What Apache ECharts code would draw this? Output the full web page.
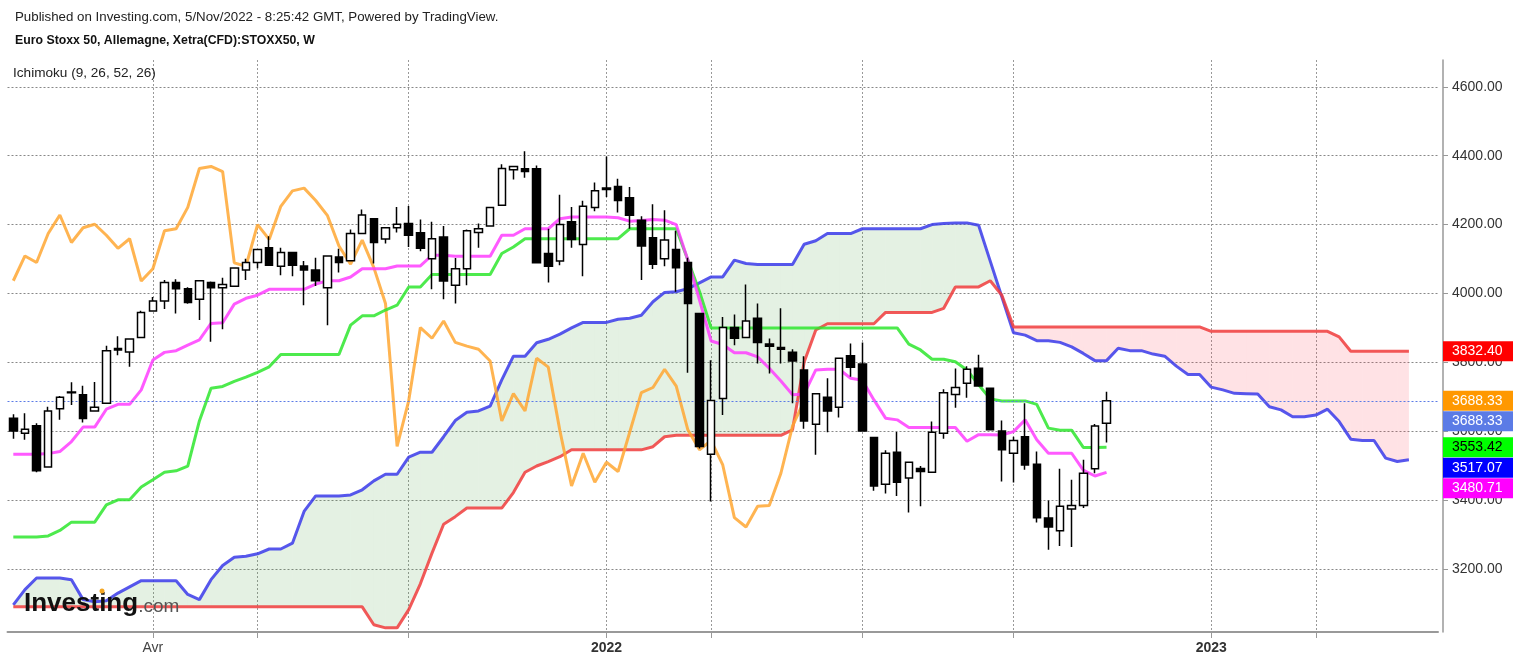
<!DOCTYPE html>
<html><head><meta charset="utf-8">
<script src="https://cdn.jsdelivr.net/npm/echarts@6/dist/echarts.min.js"></script>
<style>html,body{margin:0;padding:0;background:#fff;overflow:hidden}#c{width:1513px;height:661px}</style>
</head><body><div id="c"></div>
<script>
// ---------- DATA (weekly candles, Euro Stoxx 50) ----------
const startDate = '2021-01-11';
const totalWeeks = 123; // 95 candles + 26 forward cloud weeks + right margin
const opens = [3638,3594,3616,3496,3665,3712,3706,3659,3681,3836,
3830,3872,3949,3978,4032,4014,3983,4032,4017,4021,
4068,4090,4133,4079,4119,4080,4068,4017,4106,4095,
4174,4217,4158,4191,4203,4176,4101,4164,4024,4072,
4177,4196,4256,4359,4362,4362,4116,4094,4208,4142,
4250,4302,4311,4278,4213,4162,4101,4128,4090,3942,
3533,3695,3901,3872,3928,3853,3843,3829,3778,3620,
3699,3670,3819,3795,3582,3446,3539,3464,3492,3481,
3594,3707,3739,3783,3725,3601,3536,3584,3504,3348,
3311,3374,3384,3491,3623];
const closes = [3601,3606,3485,3659,3699,3714,3637,3670,3834,3840,
3868,3945,3978,4032,4014,3974,4037,4017,4026,4074,
4090,4128,4082,4119,4082,4068,4037,4109,4090,4174,
4228,4148,4191,4201,4169,4131,4159,4036,4072,4182,
4188,4250,4363,4369,4354,4089,4079,4200,4157,4253,
4298,4306,4270,4227,4138,4085,4155,4075,3971,3556,
3689,3901,3870,3920,3858,3847,3838,3804,3630,3709,
3659,3812,3786,3601,3441,3536,3452,3510,3483,3597,
3712,3727,3780,3731,3604,3546,3573,3502,3349,3322,
3382,3384,3478,3615,3688.33];
const lows = [3578,3575,3481,3494,3633,3676,3625,3657,3679,3821,
3787,3870,3947,3955,3942,3970,3923,3860,3896,4019,
4039,4073,4080,4053,4050,3966,4022,3908,4061,4093,
4172,4087,4145,4177,4135,4123,4012,3983,3971,4024,
4133,4194,4254,4331,4336,4087,4032,4082,4133,4050,
4239,4280,4235,4188,4039,4071,4079,4005,3770,3550,
3396,3647,3850,3870,3797,3768,3797,3681,3607,3532,
3597,3640,3758,3599,3427,3419,3412,3364,3382,3479,
3578,3668,3697,3729,3602,3454,3451,3488,3335,3256,
3267,3264,3377,3478,3567];
const highs = [3649,3652,3623,3671,3702,3742,3732,3743,3848,3876,
3870,3950,3990,4039,4041,4018,4039,4035,4046,4076,
4101,4130,4166,4133,4121,4094,4104,4111,4130,4186,
4244,4219,4193,4251,4254,4215,4208,4196,4103,4186,
4203,4252,4375,4371,4413,4372,4188,4287,4251,4269,
4322,4398,4333,4309,4224,4259,4242,4182,4104,3944,
3806,3932,3939,4026,3971,3869,3957,3838,3818,3711,
3754,3814,3855,3858,3584,3545,3598,3512,3499,3628,
3722,3782,3789,3822,3727,3631,3584,3681,3541,3399,
3491,3459,3517,3621,3715];
// Ichimoku lines
const tenkan = [3533,3533,3533,3535,3541,3570,3612,3612,3664,3678,
3678,3720,3807,3829,3834,3850,3865,3913,3915,3969,
3986,3995,4012,4012,4012,4012,4027,4037,4037,4048,
4072,4072,4072,4080,4080,4080,4111,4111,4108,4108,
4108,4108,4169,4169,4188,4188,4188,4217,4222,4222,
4222,4222,4220,4210,4212,4215,4213,4200,4097,3981,
3862,3852,3828,3828,3816,3783,3746,3706,3708,3778,
3780,3780,3754,3748,3691,3638,3633,3611,3611,3611,
3611,3611,3571,3590,3590,3589,3599,3633,3575,3536,
3536,3536,3487,3470,3480.71];
const kijun = [3293,3293,3293,3296,3312,3336,3336,3336,3386,3401,
3401,3438,3459,3481,3485,3499,3630,3725,3730,3745,
3757,3771,3787,3823,3823,3823,3823,3823,3823,3908,
3935,3935,3952,3966,4019,4019,4055,4055,4055,4055,
4055,4055,4116,4135,4159,4159,4159,4159,4159,4159,
4159,4159,4159,4188,4188,4188,4188,4188,4097,4006,
3900,3900,3900,3900,3900,3900,3900,3900,3900,3900,
3900,3900,3900,3900,3900,3900,3900,3853,3836,3809,
3809,3802,3778,3735,3694,3688,3688,3688,3678,3609,
3603,3603,3553,3553,3553.42];
const senkouA = [3096,3140,3174,3174,3174,3169,3111,3105,3108,3130,
3148,3166,3166,3166,3166,3126,3111,3169,3210,3234,
3237,3244,3258,3258,3275,3367,3412,3412,3412,3415,
3430,3456,3475,3475,3525,3539,3539,3584,3631,3655,
3659,3673,3749,3818,3818,3857,3867,3882,3900,3916,
3916,3916,3925,3928,3937,3976,4003,4005,4014,4031,
4048,4048,4097,4087,4084,4084,4084,4084,4143,4153,
4174,4174,4174,4188,4188,4188,4188,4188,4188,4200,
4203,4205,4205,4198,4094,3990,3886,3879,3863,3863,
3858,3845,3826,3805,3805,3841,3834,3834,3824,3818,
3789,3765,3765,3728,3720,3710,3709,3708,3671,3662,
3642,3642,3647,3664,3628,3577,3573,3573,3522,3512,
3517.07];
const senkouB = [3090,3090,3090,3090,3090,3090,3090,3090,3090,3090,
3090,3090,3090,3090,3090,3090,3090,3090,3090,3090,
3090,3090,3090,3090,3090,3090,3090,3090,3090,3090,
3090,3038,3029,3029,3082,3157,3246,3330,3352,3377,
3377,3377,3377,3422,3481,3499,3512,3526,3546,3546,
3546,3546,3546,3546,3546,3555,3584,3588,3588,3588,
3588,3588,3588,3588,3588,3588,3588,3604,3801,3894,
3912,3912,3912,3912,3912,3945,3945,3945,3945,3945,
3957,4019,4019,4019,4037,3995,3903,3903,3903,3903,
3903,3903,3903,3903,3903,3903,3903,3903,3903,3903,
3903,3903,3903,3890,3890,3890,3890,3890,3890,3890,
3890,3890,3890,3890,3874,3832.4,3832.4,3832.4,3832.4,3832.4,
3832.4];
const axisMarks = {12:'Avr', 21:'', 34:'', 51:'2022', 60:'', 73:'', 86:'', 103:'2023', 112:''};
const yearMarks = ['2022','2023'];
const chikouShift = 26;

// ---------- build ----------
const FONT = '"Liberation Sans", Arial, sans-serif';
const cats = [];
{ const d0 = new Date(startDate + 'T00:00:00Z');
  for (let i = 0; i < totalWeeks; i++) { const d = new Date(d0.getTime() + i*7*86400000); cats.push(d.toISOString().slice(0,10)); } }
const candleData = opens.map((o,i)=>[o, closes[i], lows[i], highs[i]]);
const chikou = closes.slice(chikouShift);
const cloudData = senkouA.slice(0,-1).map((a,i)=>[i, a, senkouB[i]]);
const markIdx = Object.keys(axisMarks).map(Number);
const isMark = (i)=>markIdx.indexOf(i) >= 0;
const GREEN_FILL = 'rgba(76,160,70,0.15)', PINK_FILL = 'rgba(255,60,80,0.15)';

function lineSeries(name, data, color){
  return {name, type:'line', data, symbol:'none', silent:true, z:3,
    lineStyle:{color, width:3, opacity:0.85}, itemStyle:{color}, connectNulls:false};
}

const option = {
  animation:false,
  backgroundColor:'#ffffff',
  grid:{left:7.5, right:75, top:60, bottom:29, containLabel:false},
  xAxis:{type:'category', data:cats, boundaryGap:true,
    axisLine:{show:true, lineStyle:{color:'#999', width:2}},
    axisTick:{show:true, alignWithLabel:true, interval:(i)=>isMark(i), length:6, lineStyle:{color:'#999'}},
    axisLabel:{interval:(i)=>isMark(i), margin:9, color:'#444', fontSize:14, fontFamily:FONT,
      formatter:(v,i)=>{ const t = axisMarks[i]; if (!t) return ''; return yearMarks.indexOf(t)>=0 ? '{b|'+t+'}' : t; },
      rich:{b:{fontWeight:'bold', fontSize:14, fontFamily:FONT, color:'#333'}}},
    splitLine:{show:true, alignWithLabel:true, interval:(i)=>isMark(i), lineStyle:{color:'#999', type:[2,2], width:1}}
  },
  yAxis:{type:'value', position:'right', offset:5, min:3017, max:4678, splitNumber:8, scale:true,
    axisLine:{show:true, lineStyle:{color:'#999', width:1.5}},
    axisTick:{show:true, length:5, lineStyle:{color:'#999'}},
    axisLabel:{color:'#333', fontSize:14, fontFamily:FONT, margin:9, showMinLabel:false, showMaxLabel:false,
      formatter:(v)=>v.toFixed(2)},
    splitLine:{show:true, showMinLine:false, showMaxLine:false, lineStyle:{color:'#888', type:[2,2], width:1}}
  },
  series:[
    {name:'cloud', type:'custom', data:cloudData, encode:{x:0, y:[1,2]}, silent:true, z:1,
      renderItem:function(params, api){
        const i = api.value(0);
        const a0 = senkouA[i], b0 = senkouB[i], a1 = senkouA[i+1], b1 = senkouB[i+1];
        const pa0 = api.coord([i, a0]), pb0 = api.coord([i, b0]);
        const pa1 = api.coord([i+1, a1]), pb1 = api.coord([i+1, b1]);
        const d0 = a0 - b0, d1 = a1 - b1;
        const ch = [];
        const poly = (pts, up)=>ch.push({type:'polygon', shape:{points:pts}, style:{fill: up ? GREEN_FILL : PINK_FILL}});
        if (d0*d1 >= 0) {
          poly([pa0, pa1, pb1, pb0], (d0 + d1) >= 0);
        } else {
          const t = d0/(d0 - d1);
          const pm = [pa0[0] + (pa1[0]-pa0[0])*t, pa0[1] + (pa1[1]-pa0[1])*t];
          poly([pa0, pm, pb0], d0 > 0);
          poly([pm, pa1, pb1], d1 > 0);
        }
        return {type:'group', children:ch};
      }},
    lineSeries('Senkou A', senkouA, '#3a3aea'),
    lineSeries('Senkou B', senkouB, '#f03c3c'),
    lineSeries('Chikou', chikou, '#ffa733'),
    lineSeries('Kijun', kijun, '#2ee62e'),
    lineSeries('Tenkan', tenkan, '#ff3dff'),
    {name:'STOXX50', type:'candlestick', data:candleData, barWidth:8, z:5, silent:true,
      itemStyle:{color:'#ffffff', color0:'#000000', borderColor:'#000000', borderColor0:'#000000', borderWidth:1.5},
      markLine:{silent:true, symbol:['none','none'], label:{show:false},
        lineStyle:{color:'#5b7be6', type:[2,2], width:1}, data:[{yAxis:closes[closes.length-1]}]}}
  ]
};

const chart = echarts.init(document.getElementById('c'));
chart.setOption(option);

// ---------- right-hand value tags ----------
const last = closes.length - 1;
const tags = [
  {v:senkouB[senkouB.length-1], bg:'#ff0000', fg:'#ffffff'},
  {v:closes[last], bg:'#ff9800', fg:'#ffffff'},
  {v:closes[last], bg:'#5b7be6', fg:'#ffffff'},
  {v:kijun[last], bg:'#00ff00', fg:'#000000'},
  {v:senkouA[senkouA.length-1], bg:'#0000ff', fg:'#ffffff'},
  {v:tenkan[last], bg:'#ff00ff', fg:'#ffffff'}
];
tags.forEach(t=>{ t.y = chart.convertToPixel({yAxisIndex:0}, t.v); });
let prevY = -1e9;
tags.forEach(t=>{ if (t.y < prevY + 20.5) t.y = prevY + 20.5; prevY = t.y; });
const axisX = 1443;
const graphics = [
  {type:'text', x:15, y:17, z:100, style:{text:'Published on Investing.com, 5/Nov/2022 - 8:25:42 GMT, Powered by TradingView.', fill:'#222', fontSize:13.3, fontFamily:FONT, verticalAlign:'middle', textVerticalAlign:'middle'}},
  {type:'text', x:15, y:41, z:100, style:{text:'Euro Stoxx 50, Allemagne, Xetra(CFD):STOXX50, W', fill:'#111', fontSize:12.3, fontWeight:'bold', fontFamily:FONT, verticalAlign:'middle', textVerticalAlign:'middle'}},
  {type:'text', x:13, y:73, z:100, style:{text:'Ichimoku (9, 26, 52, 26)', fill:'#222', fontSize:13.6, fontFamily:FONT, verticalAlign:'middle', textVerticalAlign:'middle'}},
  {type:'text', x:24, y:604, z:100, style:{text:'{a|Investing}{b|.com}', verticalAlign:'middle', textVerticalAlign:'middle',
    rich:{a:{fontSize:26, fontWeight:'bold', fontFamily:FONT, fill:'#111', letterSpacing:-0.5},
          b:{fontSize:19, fontFamily:FONT, fill:'#555', padding:[5,0,0,0]}}}},
  {type:'circle', z:101, shape:{cx:102, cy:591, r:2.5}, style:{fill:'#f5a623'}}
];
tags.forEach(t=>{
  graphics.push({type:'rect', z:100, x:axisX, y:t.y-10, shape:{width:1513-axisX, height:20}, style:{fill:t.bg}});
  graphics.push({type:'text', z:101, x:axisX+9, y:t.y, style:{text:t.v.toFixed(2), fill:t.fg, fontSize:14, fontFamily:FONT, verticalAlign:'middle', textVerticalAlign:'middle'}});
});
chart.setOption({graphic:graphics});
</script>
</body></html>
